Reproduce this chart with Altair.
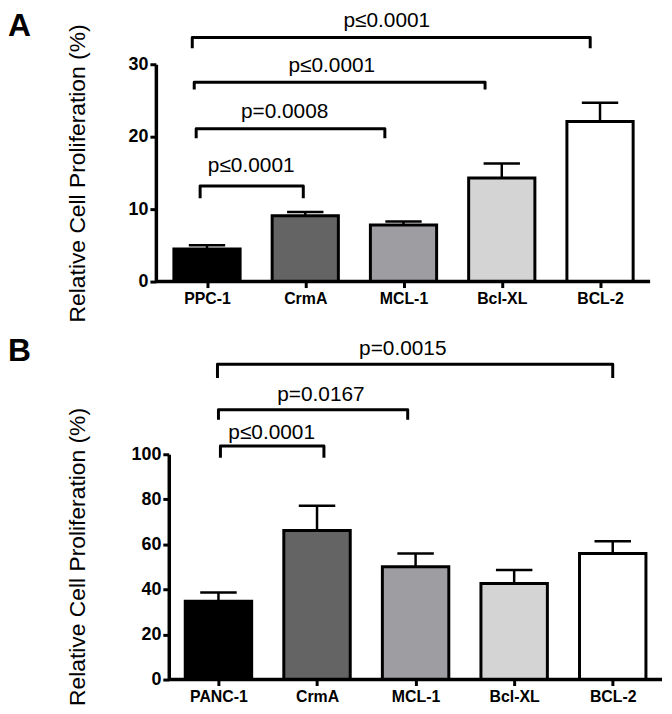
import altair as alt
import pandas as pd

FONT = "Liberation Sans"
FILLS = ["#000000", "#646464", "#9e9ea2", "#d4d4d4", "#ffffff"]
YTITLE = "Relative Cell Proliferation (%)"

# ---------------- Panel A data ----------------
cats_a = ["PPC-1", "CrmA", "MCL-1", "Bcl-XL", "BCL-2"]
mean_a = [4.5, 9.1, 7.8, 14.3, 22.1]
errtop_a = [5.0, 9.6, 8.3, 16.3, 24.7]
ticks_a = [0, 10, 20, 30]
# brackets (positions in category units, heights in data units)
brx1_a = [0.93, 0.89, 0.87, 0.85]
brx2_a = [1.98, 2.81, 3.83, 4.90]
bry_a = [13.2, 21.1, 27.5, 33.7]
brleg_a = [11.5, 19.8, 26.5, 32.2]
brlab_a = ["p≤0.0001", "p=0.0008", "p≤0.0001", "p≤0.0001"]
brlx_a = [1.45, 1.79, 2.27, 2.83]
brly_a = [16.0, 23.4, 29.8, 35.9]

# ---------------- Panel B data ----------------
cats_b = ["PANC-1", "CrmA", "MCL-1", "Bcl-XL", "BCL-2"]
mean_b = [34.8, 66.2, 50.1, 42.6, 56.0]
errtop_b = [38.6, 77.1, 56.0, 48.6, 61.4]
ticks_b = [0, 20, 40, 60, 80, 100]
brx1_b = [1.02, 1.00, 0.99]
brx2_b = [2.07, 2.92, 5.00]
bry_b = [103.7, 119.8, 140.0]
brleg_b = [98.5, 115.3, 133.8]
brlab_b = ["p≤0.0001", "p=0.0167", "p=0.0015"]
brlx_b = [1.54, 2.04, 2.87]
brly_b = [109.2, 126.4, 146.7]


def panel(cats, means, tops, ticks, ydom, bx1, bx2, by, bleg, blab, blx, bly,
          axis_span, shift, w, h, letter, letter_x, letter_y, title_x,
          title_y, yoff):
    pos = list(range(1, len(cats) + 1))
    bars = pd.DataFrame({"pos": pos, "cat": cats, "mean": means,
                         "top": tops, "fill": FILLS[:len(cats)]})
    pts = []
    for i in range(len(bx1)):
        for k, (xx, yy) in enumerate([(bx1[i], bleg[i]), (bx1[i], by[i]),
                                      (bx2[i], by[i]), (bx2[i], bleg[i])]):
            pts.append({"b": i, "o": k, "x": xx, "y": yy})
    brk = pd.DataFrame(pts)
    labs = pd.DataFrame({"x": blx, "y": bly, "t": blab})
    base_line = pd.DataFrame({"x1": [axis_span[0]], "x2": [axis_span[1]],
                              "y": [0]})

    xdom = [axis_span[0] + shift, axis_span[1] + shift]
    xscale = alt.Scale(domain=xdom, nice=False, zero=False)
    yscale = alt.Scale(domain=ydom, nice=False, zero=True)
    arr = "[" + ",".join("'%s'" % c for c in cats) + "]"
    xaxis = alt.Axis(values=pos, labelExpr=arr + "[datum.value-1]",
                     labelFont=FONT, labelFontSize=16, labelFontWeight="bold",
                     labelColor="black", labelPadding=3, labelFlush=False,
                     tickSize=6, tickWidth=3, tickColor="black",
                     domain=False, grid=False, title=None)
    yaxis = alt.Axis(values=ticks, labelFont=FONT, labelFontSize=18,
                     labelFontWeight="bold", labelColor="black",
                     labelPadding=2, tickSize=6, tickWidth=3,
                     tickColor="black", domainColor="black", domainWidth=3.5,
                     grid=False, title=YTITLE, titleFont=FONT,
                     titleFontSize=23, titleFontWeight="normal",
                     titleColor="black", titleAngle=270,
                     titleBaseline="alphabetic", titleX=title_x,
                     titleY=title_y, titleAlign="center", offset=yoff)

    base = alt.Chart(bars).transform_calculate(
        lo="datum.pos - 0.337", hi="datum.pos + 0.337",
        clo="datum.pos - 0.185", chi="datum.pos + 0.185")
    barm = base.mark_bar(stroke="black", strokeWidth=3).encode(
        x=alt.X("lo:Q", scale=xscale, axis=xaxis),
        x2="hi:Q",
        y=alt.Y("mean:Q", scale=yscale, axis=yaxis),
        y2=alt.datum(0),
        fill=alt.Fill("fill:N", scale=None))
    err = base.mark_rule(color="black", strokeWidth=2.5).encode(
        x="pos:Q", y="mean:Q", y2="top:Q")
    cap = base.mark_rule(color="black", strokeWidth=2.5).encode(
        x="clo:Q", x2="chi:Q", y="top:Q")
    xline = alt.Chart(base_line).mark_rule(color="black",
                                           strokeWidth=3.5).encode(
        x="x1:Q", x2="x2:Q", y="y:Q")
    brl = alt.Chart(brk).mark_line(color="black", strokeWidth=3,
                                   strokeJoin="round").encode(
        x="x:Q", y="y:Q", detail="b:N", order="o:Q")
    txt = alt.Chart(labs).mark_text(font=FONT, fontSize=21, color="black",
                                    baseline="middle", align="center").encode(
        x="x:Q", y="y:Q", text="t:N")
    let = alt.Chart(pd.DataFrame({"t": [letter]})).mark_text(
        font=FONT, fontSize=32, fontWeight="bold", color="black",
        align="left", baseline="alphabetic").encode(
        x=alt.value(letter_x), y=alt.value(letter_y), text="t:N")
    return alt.layer(err, cap, barm, xline, brl, txt, let).properties(
        width=w, height=h)


# panel A: its axes start 13 px left of panel B's
a = panel(cats_a, mean_a, errtop_a, ticks_a, [0, 30], brx1_a, brx2_a, bry_a,
          brleg_a, brlab_a, brlx_a, brly_a, [0.48, 5.51], 0.131, 498, 219,
          "A", -162, -28.5, -71.5, 109.5, 13)
b = panel(cats_b, mean_b, errtop_b, ticks_b, [0, 100], brx1_b, brx2_b, bry_b,
          brleg_b, brlab_b, brlx_b, brly_b, [0.496, 5.50], 0.0, 497, 227,
          "B", -162, -94, -85, 103, 0)

chart = alt.vconcat(a, b, spacing=13).properties(
    padding={"top": -1, "left": 0, "right": 0, "bottom": 0}
).configure_view(stroke=None)
chart.save("out.html", embed_options={"renderer": "svg", "actions": False})
